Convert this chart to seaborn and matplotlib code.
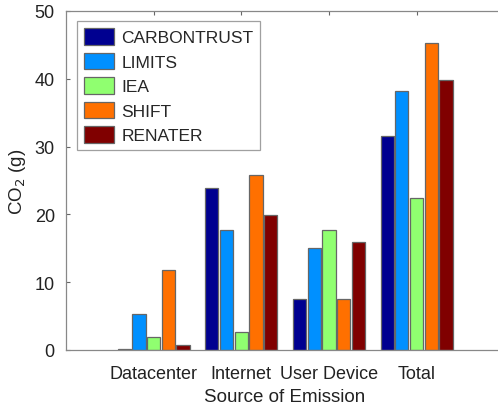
import pandas as pd
import seaborn as sns
import matplotlib.pyplot as plt

# Values (g CO2)
categories = ["Datacenter", "Internet", "User Device", "Total"]
sources = ["CARBONTRUST", "LIMITS", "IEA", "SHIFT", "RENATER"]
carbontrust = [0.1, 23.9, 7.5, 31.5]
limits = [5.3, 17.7, 15.0, 38.2]
iea = [1.9, 2.7, 17.7, 22.4]
shift = [11.8, 25.8, 7.5, 45.3]
renater = [0.8, 19.9, 15.9, 39.8]
colors = ["#000090", "#0090ff", "#90ff70", "#ff7000", "#800000"]

series = [carbontrust, limits, iea, shift, renater]
df = pd.DataFrame(
    [(c, s, v) for s, vals in zip(sources, series) for c, v in zip(categories, vals)],
    columns=["category", "source", "value"],
)

sns.set_style("white")
plt.rcParams["font.family"] = ["Liberation Sans", "DejaVu Sans"]

fig = plt.figure(figsize=(4.98, 4.06), dpi=100)
ax = fig.add_axes([0.1325, 0.1355, 0.88, 0.835])

sns.barplot(data=df, x="category", y="value", hue="source", order=categories,
            hue_order=sources, palette=colors, width=0.84, gap=0.1, saturation=1,
            edgecolor="#666666", linewidth=0.9, ax=ax)

ax.set_xlim(-1, 4.0)
ax.set_ylim(0, 50)
ax.set_yticks(range(0, 51, 10))
ax.set_xlabel("Source of Emission", fontsize=13.5, color="#222222", labelpad=4)
ax.set_ylabel("CO$_2$ (g)", fontsize=13.5, color="#222222", labelpad=5)
ax.tick_params(axis="both", labelsize=13, colors="#222222", length=3,
               direction="in", color="#666666")
ax.tick_params(axis="y", left=True, pad=8)
ax.tick_params(axis="x", bottom=True, top=True, pad=11)
for sp in ax.spines.values():
    sp.set_color("#888888")
    sp.set_linewidth(0.9)

leg = ax.legend(loc="upper left", bbox_to_anchor=(0.025, 0.97), fontsize=12.5,
                frameon=True, fancybox=False, edgecolor="#888888",
                handlelength=1.75, handleheight=1.1, labelspacing=0.42,
                borderpad=0.4, handletextpad=0.4, borderaxespad=0)
leg.get_frame().set_linewidth(0.9)

fig.savefig("out.png", dpi=100)
